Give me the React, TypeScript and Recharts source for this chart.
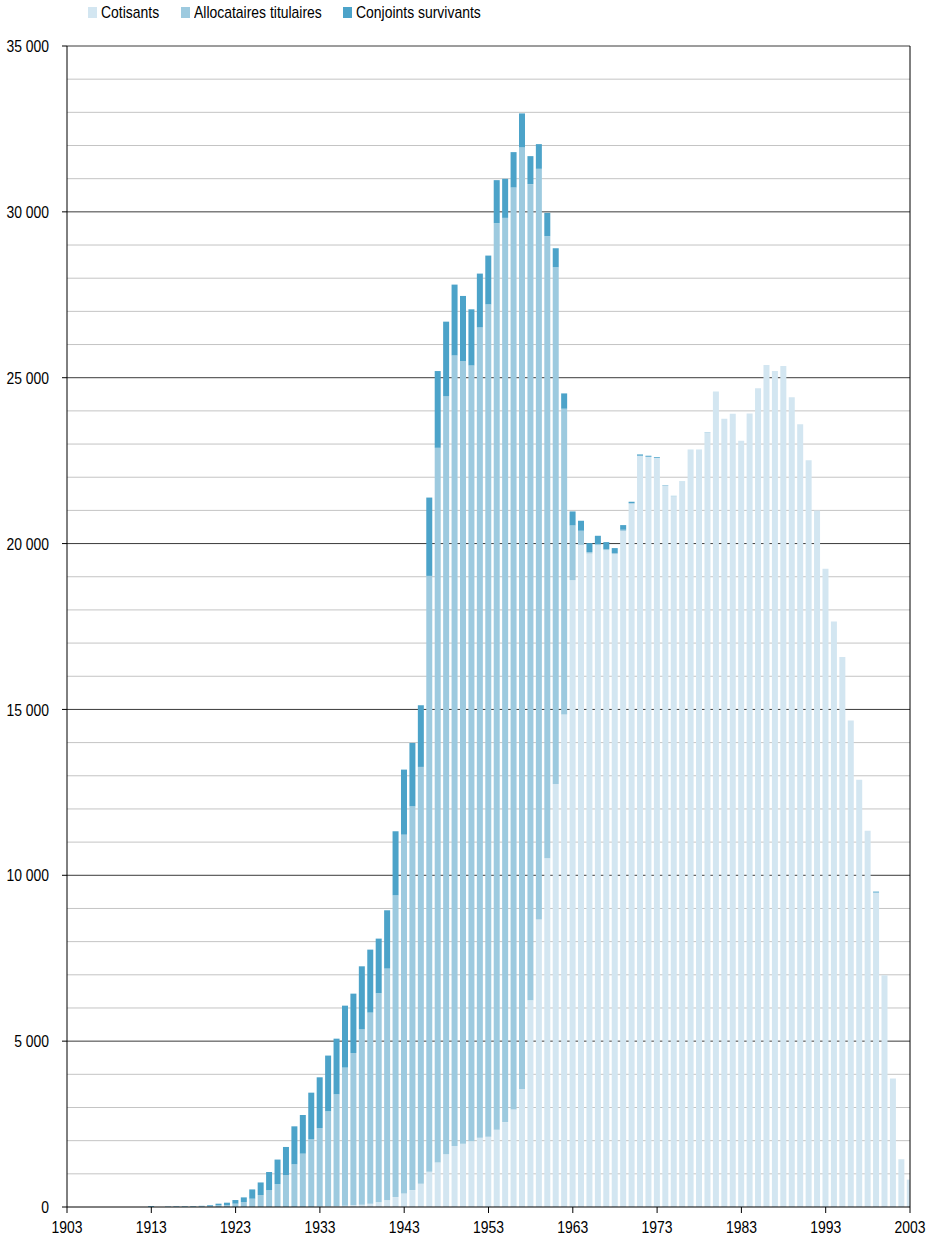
import React from 'react';
import { BarChart, Bar, XAxis, YAxis, CartesianGrid, ReferenceLine } from 'recharts';

// one category per birth year, 1903 to 2003
const years = Array.from({ length: 101 }, (_, i) => 1903 + i);

const cotisants = [
  0, 0, 0, 0, 0, 0, 0, 0, 0, 0, // 1903-1912
  0, 0, 0, 0, 0, 0, 0, 0, 0, 0, // 1913-1922
  0, 0, 0, 0, 0, 0, 0, 0, 0, 0, // 1923-1932
  10, 15, 30, 40, 50, 70, 100, 140, 200, 300, // 1933-1942
  410, 510, 700, 1060, 1340, 1590, 1840, 1910, 1980, 2090, // 1943-1952
  2120, 2330, 2560, 2940, 3560, 6230, 8670, 10510, 12750, 14850, // 1953-1962
  18900, 19960, 19700, 19950, 19800, 19680, 20380, 21200, 22640, 22610, // 1963-1972
  22580, 21750, 21430, 21860, 22820, 22820, 23360, 24570, 23760, 23910, // 1973-1982
  23100, 23920, 24680, 25380, 25200, 25350, 24410, 23600, 22510, 21000, // 1983-1992
  19240, 17650, 16580, 14670, 12880, 11340, 9480, 6985, 3875, 1440, // 1993-2002
  825, // 2003
];

const allocataires = [
  0, 0, 0, 0, 0, 0, 0, 0, 0, 0, // 1903-1912
  5, 0, 5, 5, 5, 10, 20, 40, 50, 60, // 1913-1922
  100, 150, 250, 360, 505, 690, 965, 1286, 1608, 2040, // 1923-1932
  2372, 2870, 3367, 4161, 4593, 5287, 5759, 6300, 6986, 9097, // 1933-1942
  10816, 11570, 12567, 17965, 21547, 22857, 23834, 23593, 23392, 24429, // 1943-1952
  25093, 27328, 27259, 27794, 28392, 24605, 22628, 18756, 15580, 9215, // 1953-1962
  1646, 426, 43, 35, 34, 33, 36, 20, 10, 8, // 1963-1972
  5, 4, 0, 0, 0, 0, 0, 0, 0, 0, // 1973-1982
  0, 0, 0, 0, 0, 0, 0, 0, 0, 0, // 1983-1992
  0, 0, 0, 0, 0, 0, 0, 0, 0, 0, // 1993-2002
  0, // 2003
];

const conjoints = [
  0, 0, 0, 0, 0, 0, 0, 0, 0, 0, // 1903-1912
  25, 0, 10, 15, 15, 15, 15, 20, 50, 70, // 1913-1922
  110, 140, 280, 380, 550, 740, 845, 1146, 1166, 1407, // 1923-1932
  1528, 1680, 1678, 1869, 1789, 1899, 1900, 1651, 1759, 1930, // 1933-1942
  1960, 1910, 1859, 2362, 2314, 2243, 2133, 1962, 1690, 1620, // 1943-1952
  1469, 1298, 1177, 1067, 1016, 845, 744, 704, 573, 462, // 1953-1962
  423, 302, 271, 250, 211, 151, 141, 41, 37, 30, // 1963-1972
  23, 10, 8, 6, 5, 5, 4, 4, 0, 0, // 1973-1982
  0, 0, 0, 0, 0, 0, 0, 0, 0, 0, // 1983-1992
  0, 0, 0, 0, 0, 0, 28, 0, 0, 0, // 1993-2002
  0, // 2003
];

const xTicks = [1903, 1913, 1923, 1933, 1943, 1953, 1963, 1973, 1983, 1993, 2003];
const yTicks = [0, 5000, 10000, 15000, 20000, 25000, 30000, 35000];
const minorLines = Array.from({ length: 35 }, (_, i) => (i + 1) * 1000).filter((v) => v % 5000 !== 0);

const data = years.map((year, i) => ({
  year,
  cotisants: cotisants[i],
  allocataires: allocataires[i],
  conjoints: conjoints[i],
}));

const FONT = '"Liberation Sans", Arial, sans-serif';
const SQUEEZE = 0.82; // the original type is a narrow face

const fmt = (v: number) => (v === 0 ? '0' : `${v / 1000} 000`);

const YTick = ({ x, y, payload }: any) => (
  <g transform={`translate(${x},${y})`}>
    <text transform={`scale(${SQUEEZE},1)`} textAnchor="end" dy="0.36em" fontSize={17} fontFamily={FONT} fill="#000">
      {fmt(payload.value)}
    </text>
  </g>
);

const XTick = ({ x, y, payload }: any) => (
  <g transform={`translate(${x},${y})`}>
    <text transform={`scale(${SQUEEZE},1)`} textAnchor="middle" dy="0.71em" fontSize={17} fontFamily={FONT} fill="#000">
      {payload.value}
    </text>
  </g>
);

const legendItems = [
  { label: 'Cotisants', color: '#d3e6f1', sq: 88, tx: 101 },
  { label: 'Allocataires titulaires', color: '#9dcadf', sq: 181, tx: 194 },
  { label: 'Conjoints survivants', color: '#4ca3c9', sq: 343, tx: 356 },
];

export default function App() {
  return (
    <div style={{ position: 'absolute', left: 0, top: 0, width: 937, height: 1240, background: '#fff', overflow: 'hidden' }}>
      {legendItems.map((it) => (
        <React.Fragment key={it.label}>
          <div style={{ position: 'absolute', left: it.sq, top: 7, width: 9, height: 11, background: it.color }} />
          <div
            style={{
              position: 'absolute',
              left: it.tx,
              top: 4,
              fontFamily: FONT,
              fontSize: 17,
              lineHeight: '17px',
              whiteSpace: 'nowrap',
              transform: `scaleX(${SQUEEZE})`,
              transformOrigin: 'left center',
              color: '#000',
            }}
          >
            {it.label}
          </div>
        </React.Fragment>
      ))}
      <div style={{ position: 'absolute', left: 0, top: 0 }}>
        <BarChart width={937} height={1240} data={data} margin={{ top: 46, right: 27, left: 0, bottom: 3 }}>
          <CartesianGrid vertical={false} horizontalValues={minorLines} stroke="#c4c4c4" />
          <CartesianGrid vertical={false} horizontalValues={yTicks.filter((v) => v > 0)} stroke="#3a3a3a" />
          <XAxis
            dataKey="year"
            type="number"
            domain={[1903, 2003]}
            ticks={xTicks}
            interval={0}
            allowDataOverflow
            height={30}
            tickSize={6}
            tickMargin={8}
            axisLine={{ stroke: '#000' }}
            tickLine={{ stroke: '#000' }}
            tick={<XTick />}
          />
          <YAxis
            type="number"
            domain={[0, 35000]}
            ticks={yTicks}
            interval={0}
            width={67}
            tickSize={5}
            tickMargin={13}
            axisLine={{ stroke: '#000' }}
            tickLine={{ stroke: '#000' }}
            tick={<YTick />}
          />
          <ReferenceLine x={2003} stroke="#000" />
          <Bar dataKey="cotisants" stackId="a" fill="#d3e6f1" barSize={6} isAnimationActive={false} />
          <Bar dataKey="allocataires" stackId="a" fill="#9dcadf" barSize={6} isAnimationActive={false} />
          <Bar dataKey="conjoints" stackId="a" fill="#4ca3c9" barSize={6} isAnimationActive={false} />
        </BarChart>
      </div>
    </div>
  );
}
